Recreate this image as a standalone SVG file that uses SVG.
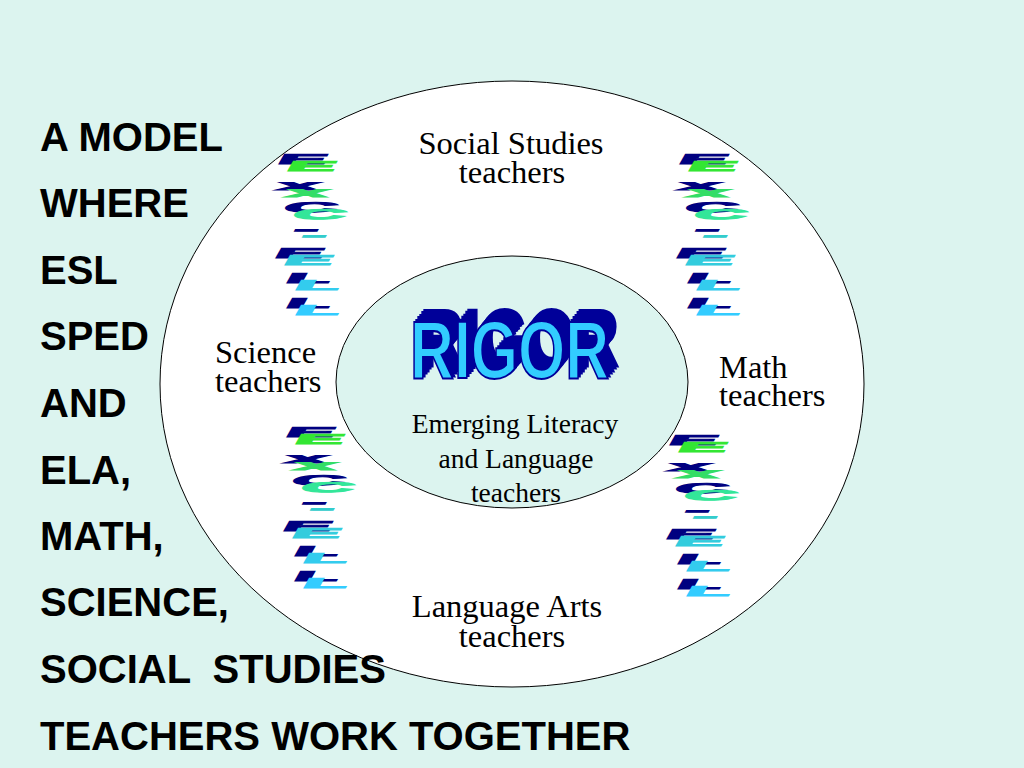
<svg xmlns="http://www.w3.org/2000/svg" width="1024" height="768" viewBox="0 0 1024 768">
<style>
.head{font-family:"Liberation Sans",Arial,sans-serif;font-weight:bold;font-size:40px;fill:#000;white-space:pre}
.lbl{font-family:"Liberation Serif","Times New Roman",serif;font-size:32.5px;fill:#000}
.inner{font-family:"Liberation Serif","Times New Roman",serif;font-size:27.5px;fill:#000}
.ex{font-family:"Liberation Sans",Arial,sans-serif;font-weight:bold;font-size:14px;stroke-width:1;stroke-linejoin:miter}
.nv{fill:#000080;stroke:#000080}
.rg{font-family:"Liberation Sans",Arial,sans-serif;font-weight:bold;font-size:80px}
</style>
<defs>
<filter id="extrude" x="-10%" y="-40%" width="130%" height="160%">
  <feOffset in="SourceAlpha" dx="2.5" dy="-2.4" result="o1"/>
  <feOffset in="SourceAlpha" dx="5" dy="-4.8" result="o2"/>
  <feOffset in="SourceAlpha" dx="7.5" dy="-7.2" result="o3"/>
  <feOffset in="SourceAlpha" dx="10" dy="-9.6" result="o4"/>
  <feOffset in="SourceAlpha" dx="12.5" dy="-12" result="o5"/>
  <feMerge result="stack">
    <feMergeNode in="o1"/><feMergeNode in="o2"/><feMergeNode in="o3"/><feMergeNode in="o4"/><feMergeNode in="o5"/>
  </feMerge>
  <feFlood flood-color="#000099"/>
  <feComposite in2="stack" operator="in" result="ext"/>
  <feMerge><feMergeNode in="ext"/><feMergeNode in="SourceGraphic"/></feMerge>
</filter>
<g id="excell">
  <text class="ex nv" transform="translate(-3,0) skewX(-30) scale(5.2,1)">E</text>
  <text class="ex" fill="#33e633" stroke="#33e633" transform="translate(6,7) skewX(-30) scale(5.2,1)">E</text>
  <text class="ex nv" transform="translate(-3,25.5) skewX(-30) scale(5.2,1)">x</text>
  <text class="ex" fill="#33dd66" stroke="#33dd66" transform="translate(6,32.5) skewX(-30) scale(5.2,1)">x</text>
  <text class="ex nv" transform="translate(3,48) skewX(-30) scale(5.2,1)">C</text>
  <text class="ex" fill="#33e699" stroke="#33e699" transform="translate(12,55) skewX(-30) scale(5.2,1)">C</text>
  <text class="ex nv" transform="translate(13,70) skewX(-30) scale(5.2,1)">-</text>
  <text class="ex" fill="#33cccc" stroke="#33cccc" transform="translate(21,76) skewX(-30) scale(5.2,1)">-</text>
  <text class="ex nv" transform="translate(-6,94) skewX(-30) scale(5.2,1)">E</text>
  <text class="ex" fill="#33ccdd" stroke="#33ccdd" transform="translate(3,101) skewX(-30) scale(5.2,1)">E</text>
  <text class="ex nv" transform="translate(5,119) skewX(-30) scale(5.2,1)">L</text>
  <text class="ex" fill="#33ccee" stroke="#33ccee" transform="translate(14,126) skewX(-30) scale(5.2,1)">L</text>
  <text class="ex nv" transform="translate(5,144) skewX(-30) scale(5.2,1)">L</text>
  <text class="ex" fill="#33ccff" stroke="#33ccff" transform="translate(14,151) skewX(-30) scale(5.2,1)">L</text>
</g>
</defs>
<rect x="0" y="0" width="1024" height="768" fill="#dcf4ef"/>
<g id="outer-ring">
  <ellipse cx="512" cy="384" rx="352" ry="303" fill="#ffffff" stroke="#000" stroke-width="1"/>
</g>
<g id="inner-circle">
  <ellipse cx="512" cy="382" rx="176" ry="126" fill="#dcf4ef" stroke="#000" stroke-width="1"/>
</g>
<g id="excell-top-left"><use href="#excell" transform="translate(279,164)"/></g>
<g id="excell-top-right"><use href="#excell" transform="translate(680,164)"/></g>
<g id="excell-bottom-left"><use href="#excell" transform="translate(287,437)"/></g>
<g id="excell-bottom-right"><use href="#excell" transform="translate(670,445)"/></g>
<g id="rigor">
  <text class="rg" fill="#33ccff" stroke="#000099" stroke-width="2" filter="url(#extrude)" transform="translate(410,378) scale(0.76,1.02)">RIGOR</text>
</g>
<g id="social-studies">
  <text class="lbl" text-anchor="middle" x="511" y="154">Social Studies</text>
  <text class="lbl" text-anchor="middle" x="512" y="183">teachers</text>
</g>
<g id="science">
  <text class="lbl" x="215" y="363">Science</text>
  <text class="lbl" x="215" y="392">teachers</text>
</g>
<g id="math">
  <text class="lbl" x="719" y="378">Math</text>
  <text class="lbl" x="719" y="406">teachers</text>
</g>
<g id="language-arts">
  <text class="lbl" text-anchor="middle" x="507" y="617">Language Arts</text>
  <text class="lbl" text-anchor="middle" x="512" y="647">teachers</text>
</g>
<g id="emerging-literacy">
  <text class="inner" text-anchor="middle" x="515" y="433">Emerging Literacy</text>
  <text class="inner" text-anchor="middle" x="516" y="468">and Language</text>
  <text class="inner" text-anchor="middle" x="516" y="502">teachers</text>
</g>
<g id="title">
  <text class="head" x="40" y="151">A MODEL</text>
  <text class="head" x="40" y="217">WHERE</text>
  <text class="head" x="40" y="284">ESL</text>
  <text class="head" x="40" y="350">SPED</text>
  <text class="head" x="40" y="417">AND</text>
  <text class="head" x="40" y="484">ELA,</text>
  <text class="head" x="40" y="550">MATH,</text>
  <text class="head" x="40" y="616">SCIENCE,</text>
  <text class="head" x="40" y="683">SOCIAL  STUDIES</text>
  <text class="head" x="40" y="750">TEACHERS WORK TOGETHER</text>
</g>
</svg>
